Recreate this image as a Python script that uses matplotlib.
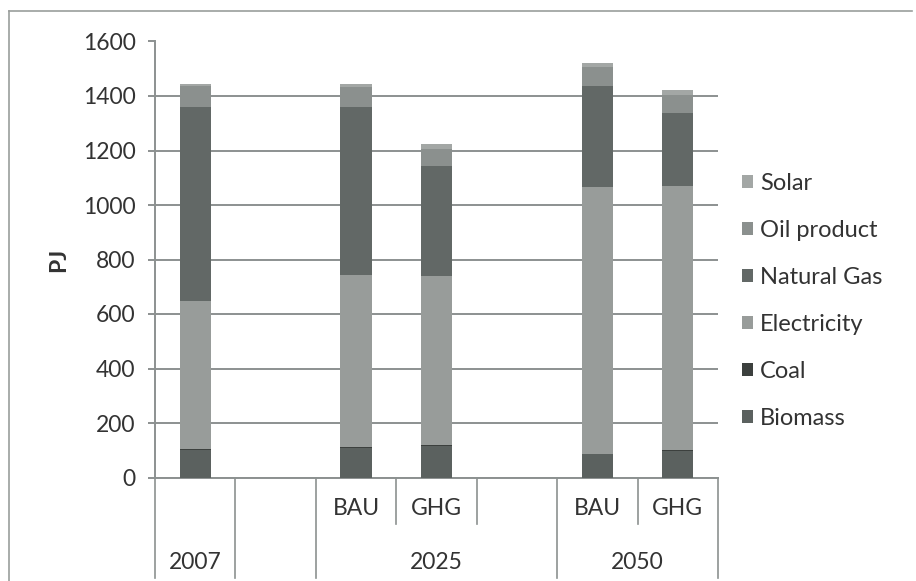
import matplotlib
matplotlib.use("Agg")
import matplotlib.pyplot as plt
import matplotlib.transforms as mtransforms
from matplotlib.lines import Line2D
from matplotlib.patches import Patch

# slots along the category axis (2007, gap, 2025 BAU, 2025 GHG, gap, 2050 BAU, 2050 GHG)
slot_labels = ['', '', 'BAU', 'GHG', '', 'BAU', 'GHG']
groups = [('2007', 0, 1), ('', 1, 2), ('2025', 2, 5), ('2050', 5, 7)]
bar_slots = [0, 2, 3, 5, 6]

# PJ per fuel for each bar
biomass = [100, 110, 115, 85, 97]
coal = [3, 3, 3, 3, 3]
electricity = [545, 630, 620, 977, 970]
natural_gas = [710, 615, 404, 370, 266]
oil_product = [77, 75, 65, 70, 66]
solar = [10, 12, 18, 15, 20]

series = [('Biomass', biomass, '#5b615f'),
          ('Coal', coal, '#3c403e'),
          ('Electricity', electricity, '#989c9a'),
          ('Natural Gas', natural_gas, '#626866'),
          ('Oil product', oil_product, '#8b908e'),
          ('Solar', solar, '#a3a7a5')]

plt.rcParams['font.family'] = ['Lato', 'DejaVu Sans']
text_color = '#333333'
grid_color = '#8c9190'
fs = 16.5

fig = plt.figure(figsize=(9.16, 5.81), dpi=100)
ax = fig.add_axes([155 / 916, 1 - 477.5 / 581, 563 / 916, 436 / 581])

bottom = [0] * len(bar_slots)
handles = []
for name, vals, col in series:
    ax.bar(bar_slots, vals, width=0.39, bottom=bottom, color=col, zorder=3)
    bottom = [b + v for b, v in zip(bottom, vals)]
    handles.append(Patch(facecolor=col, label=name))

ax.set_xlim(-0.5, 6.5)
ax.set_ylim(0, 1600)
ax.set_yticks(range(0, 1601, 200))
ax.yaxis.grid(True, color=grid_color, linewidth=1.4, zorder=0)
ax.set_xticks([])
for s in ['top', 'right']:
    ax.spines[s].set_visible(False)
for s in ['left', 'bottom']:
    ax.spines[s].set_color(grid_color)
    ax.spines[s].set_linewidth(1.4)
ax.tick_params(axis='y', length=5, width=1.4, color=grid_color, pad=9,
               labelsize=fs, labelcolor=text_color)
ax.set_ylabel('PJ', fontsize=fs, fontweight='bold', color=text_color, labelpad=10)

# two-level category axis drawn below the plot
trans = mtransforms.blended_transform_factory(ax.transData, ax.transAxes)
for i, lab in enumerate(slot_labels):
    if lab:
        ax.text(i, -0.072, lab, transform=trans, ha='center', va='center',
                fontsize=fs, color=text_color)
for name, a, b in groups:
    ax.text((a + b - 1) / 2, -0.196, name, transform=trans, ha='center', va='center',
            fontsize=fs, color=text_color)
for edge in [-0.5, 0.5, 1.5, 4.5, 6.5]:
    ax.add_line(Line2D([edge, edge], [0, -0.23], transform=trans, color=grid_color,
                       linewidth=1.2, clip_on=False))
for edge in [2.5, 3.5, 5.5]:
    ax.add_line(Line2D([edge, edge], [0, -0.107], transform=trans, color=grid_color,
                       linewidth=1.2, clip_on=False))

leg = fig.legend(handles=handles[::-1], loc='center left',
                 bbox_to_anchor=(721 / 916, 1 - 301 / 581), frameon=False,
                 fontsize=17, labelspacing=1.1, handlelength=0.45,
                 handleheight=0.45, handletextpad=0.3, labelcolor=text_color)

# chart frame
fig.add_artist(Line2D([9 / 916, 9 / 916], [0, 1 - 11 / 581], color='#9a9e9c', linewidth=1.2))
fig.add_artist(Line2D([9 / 916, 912 / 916], [1 - 11 / 581, 1 - 11 / 581], color='#9a9e9c', linewidth=1.2))

fig.savefig('out.png', dpi=100)
